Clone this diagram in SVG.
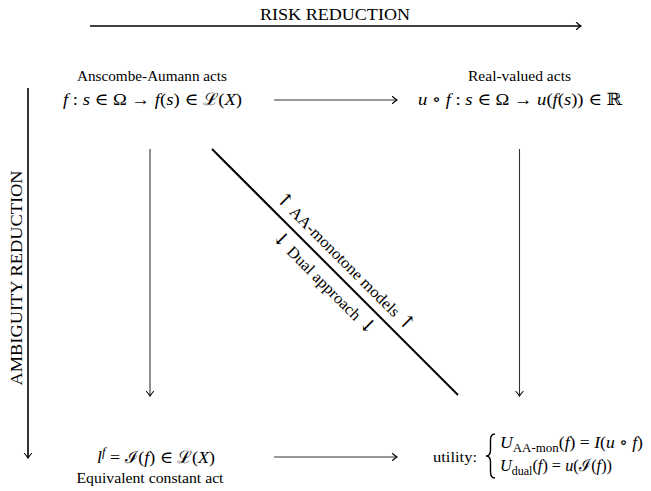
<svg xmlns="http://www.w3.org/2000/svg" width="651" height="491" viewBox="0 0 651 491">
<defs>
<marker id="ah" markerWidth="12" markerHeight="12" refX="9" refY="6" orient="auto" markerUnits="userSpaceOnUse">
<path d="M4.5 2.5 Q7.5 5.2 9 6 Q7.5 6.8 4.5 9.5" fill="none" stroke="#000" stroke-width="1.1" stroke-linecap="round"/>
</marker>
</defs>
<style>
text{font-family:"Liberation Serif","DejaVu Serif",serif;fill:#000}
.m{font-size:17px}
.t{font-size:14px}
.i{font-style:italic}
.big{font-size:16px}
.ar{font-family:"DejaVu Serif",serif;fill:#000;font-size:19px}
.thin{stroke:#333;stroke-width:1.1;fill:none}
.thick{stroke:#000;stroke-width:1.6;fill:none}
</style>
<rect width="651" height="491" fill="#fff"/>
<g id="axes">
<line class="thick" x1="90" y1="26" x2="581" y2="26" marker-end="url(#ah)"/>
<text class="big" x="335" y="20" text-anchor="middle" textLength="150" lengthAdjust="spacingAndGlyphs">RISK REDUCTION</text>
<line class="thick" x1="28" y1="88" x2="28" y2="458" marker-end="url(#ah)"/>
<text class="big" transform="translate(22,278) rotate(-90)" text-anchor="middle" textLength="215" lengthAdjust="spacingAndGlyphs">AMBIGUITY REDUCTION</text>
</g>
<g id="connectors">
<line class="thin" x1="274" y1="100" x2="397" y2="100" marker-end="url(#ah)"/>
<line class="thin" x1="150" y1="149" x2="150" y2="396" marker-end="url(#ah)"/>
<line class="thin" x1="519.5" y1="149" x2="519.5" y2="396" marker-end="url(#ah)"/>
<line class="thin" x1="274" y1="457" x2="397" y2="457" marker-end="url(#ah)"/>
<line x1="212" y1="149" x2="458" y2="395" stroke="#000" stroke-width="2"/>
<g transform="translate(212,149) rotate(45)">
<text class="big" x="174" y="-9" text-anchor="middle" textLength="189" lengthAdjust="spacingAndGlyphs"><tspan class="ar">↑</tspan> AA-monotone models <tspan class="ar">↑</tspan></text>
<text class="big" x="174" y="21" text-anchor="middle" textLength="139" lengthAdjust="spacingAndGlyphs"><tspan class="ar">↓</tspan> Dual approach <tspan class="ar">↓</tspan></text>
</g>
</g>
<g id="aa-acts">
<text class="t" x="152" y="81" text-anchor="middle" textLength="150" lengthAdjust="spacingAndGlyphs">Anscombe-Aumann acts</text>
<text class="m" x="152.5" y="105" text-anchor="middle" textLength="179" lengthAdjust="spacingAndGlyphs"><tspan class="i">f</tspan> : <tspan class="i">s</tspan> ∈ Ω → <tspan class="i">f</tspan>(<tspan class="i">s</tspan>) ∈ ℒ(<tspan class="i">X</tspan>)</text>
</g>
<g id="real-acts">
<text class="t" x="519.5" y="81" text-anchor="middle" textLength="103" lengthAdjust="spacingAndGlyphs">Real-valued acts</text>
<text class="m" x="520" y="105" text-anchor="middle" textLength="204" lengthAdjust="spacingAndGlyphs"><tspan class="i">u</tspan> ∘ <tspan class="i">f</tspan> : <tspan class="i">s</tspan> ∈ Ω → <tspan class="i">u</tspan>(<tspan class="i">f</tspan>(<tspan class="i">s</tspan>)) ∈ ℝ</text>
</g>
<g id="constant-act">
<text class="m" x="97" y="463" textLength="118" lengthAdjust="spacingAndGlyphs"><tspan class="i">l</tspan><tspan class="i" font-size="12" dy="-7">f</tspan><tspan dy="7"> = ℐ(</tspan><tspan class="i">f</tspan>) ∈ ℒ(<tspan class="i">X</tspan>)</text>
<text class="t" x="150" y="483" text-anchor="middle" textLength="147" lengthAdjust="spacingAndGlyphs">Equivalent constant act</text>
</g>
<g id="utility">
<text class="t" x="433" y="462" textLength="44" lengthAdjust="spacingAndGlyphs">utility:</text>
<path d="M495 434 Q490.5 434 490.5 440 L490.5 450 Q490.5 456 486 456 Q490.5 456 490.5 462 L490.5 472 Q490.5 478 495 478" fill="none" stroke="#000" stroke-width="1.4"/>
<text class="m" x="500" y="448" textLength="143" lengthAdjust="spacingAndGlyphs"><tspan class="i">U</tspan><tspan font-size="12.5" dy="4">AA-mon</tspan><tspan dy="-4">(</tspan><tspan class="i">f</tspan>) = <tspan class="i">I</tspan>(<tspan class="i">u</tspan> ∘ <tspan class="i">f</tspan>)</text>
<text class="m" x="500" y="471" textLength="112" lengthAdjust="spacingAndGlyphs"><tspan class="i">U</tspan><tspan font-size="12.5" dy="4">dual</tspan><tspan dy="-4">(</tspan><tspan class="i">f</tspan>) = <tspan class="i">u</tspan>(ℐ(<tspan class="i">f</tspan>))</text>
</g>
</svg>
